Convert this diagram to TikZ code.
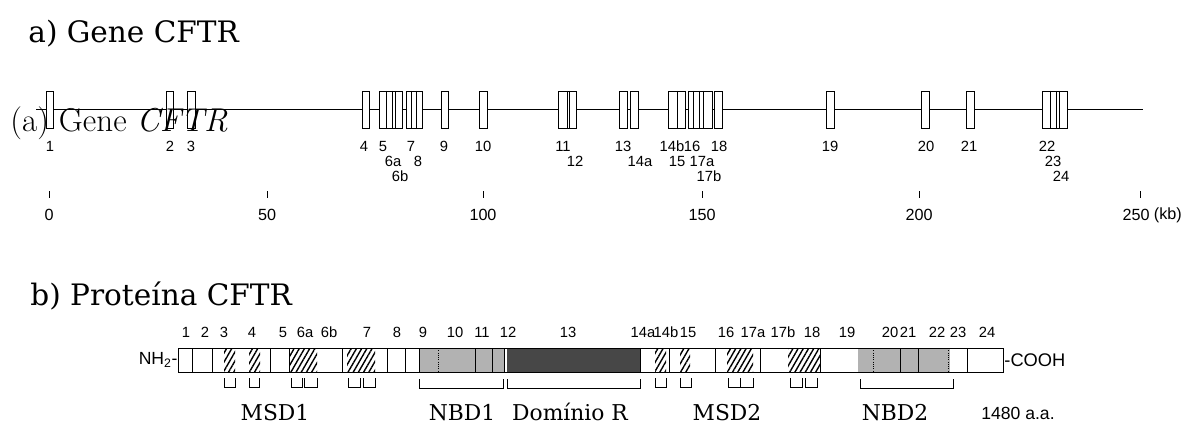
\documentclass[tikz,border=0pt]{standalone}
\usepackage{fontspec}
\newfontfamily\titlefont{DejaVu Serif}
\setsansfont{Liberation Sans}
\usetikzlibrary{patterns,patterns.meta,positioning}

\begin{document}
\begin{tikzpicture}[x=0.025cm, y=-0.025cm, line width=0.6pt,
  exon/.style={draw, fill=white},
  lbl/.style={font=\sffamily\fontsize{10.5}{11}\selectfont, inner sep=0pt},
  scl/.style={font=\sffamily\fontsize{11.5}{12}\selectfont, inner sep=0pt},
  ttl/.style={font=\titlefont\fontsize{21}{24}\selectfont, anchor=base west, inner sep=0pt},
  dom/.style={font=\titlefont\fontsize{15.5}{17}\selectfont, anchor=base, inner sep=0pt},
  tm/.style={pattern={Lines[angle=60, distance=3.2pt, line width=1pt]}},
  nbd/.style={fill=black!30},
  rdom/.style={fill=black!72}]
  \useasboundingbox (0,0) rectangle (1188,426);

  % Titles
  \node (titleA) [ttl] at (28,43) {a) Gene CFTR};
  \node (titleB) [ttl] at (30,305) {b) Proteína CFTR};

  % Gene
  \coordinate (gstart) at (36,109);
  \coordinate (gend) at (1143,109);
  \draw (gstart) -- (gend);
  \foreach \a/\b in {46/53,166/173,187/195,362/369,379/402,406/422,441/448,479/487,
    558/576,619/627,630/638,668/685,688/712,714/722,826/834,921/929,966/974,1042/1067}
    \draw[exon] (\a,91) rectangle (\b,128);
  \foreach \d in {386,392,395,411,416,567,569,677,693,699,703,1050,1056,1059}
    \draw (\d,91) -- (\d,128);
  \node (overlay) [anchor=base west, inner sep=0pt, font=\fontsize{23.5}{25}\selectfont] at (10,132) {(a) Gene \textit{CFTR}};

  % Exon labels
  \foreach \x/\t in {50/1,170/2,191/3,364/4,383/5,411/7,444/9,483/10,563/11,623/13,
    672/14b,692/16,719/18,830/19,926/20,969/21,1047/22}
    \node (ge\t) [lbl] at (\x,146) {\t};
  \foreach \x/\t in {393/6a,418/8,575/12,640/14a,677/15,702/17a,1053/23}
    \node (ge\t) [lbl] at (\x,161) {\t};
  \foreach \x/\t in {400/6b,709/17b,1061/24}
    \node (ge\t) [lbl] at (\x,176) {\t};

  % Scale
  \foreach \x in {49,267,483,702,919,1140}
    \draw (\x,191) -- (\x,198);
  \foreach \x/\t in {49/0,267/50,483/100,702/150,919/200,1136/250}
    \node (kb\t) [scl] at (\x,215) {\t};
  \node (kbunit) [scl, right=2.5pt of kb250] {(kb)};

  % Protein
  \draw[nbd] (419,348) rectangle (504,372);
  \draw[nbd, draw=none] (858,348) rectangle (950,372);
  \fill[rdom] (507,348) rectangle (640,372);
  \foreach \a/\b in {224/235,249/260,290/317,347/375,655/666,680/690,727/753,788/820}
    \fill[tm] (\a,348) rectangle (\b,372);
  \draw (178,348) rectangle (1003,372);
  \foreach \d in {192,212,270,289,342,387,405,475,492,640,669,715,760,820,900,918,967}
    \draw (\d,348) -- (\d,372);
  \foreach \d in {438,873,948}
    \draw[densely dotted] (\d,348) -- (\d,372);
  \node (nh2) [anchor=east, inner sep=0pt, font=\sffamily\fontsize{12.5}{13}\selectfont] at (178,360) {NH\textsubscript{2}-};
  \node (cooh) [anchor=west, inner sep=0pt, font=\sffamily\fontsize{13}{13}\selectfont] at (1004,360) {-COOH};

  % Protein labels
  \foreach \x/\t in {186/1,205/2,224/3,252/4,283/5,305/6a,329/6b,367/7,397/8,423/9,
    455/10,482/11,508/12,568/13,643/14a,666/14b,688/15,726/16,753/17a,783/17b,
    812/18,847/19,890/20,908/21,937/22,958/23,987/24}
    \node (pe\t) [lbl] at (\x,332) {\t};

  % Brackets
  \foreach \a/\b in {224/235,249/259,291/302,304/317,348/360,363/375,655/666,680/691,
    728/740,740/753,790/802,805/817}
    \draw (\a,378) -- (\a,387) -- (\b,387) -- (\b,378);
  \foreach \a/\b in {419/503,507/640,860/953}
    \draw (\a,379) -- (\a,388) -- (\b,388) -- (\b,379);

  % Domains
  \node (msd1) [dom] at (275,420) {MSD1};
  \node (nbd1) [dom] at (462,420) {NBD1};
  \node (rdomain) [dom] at (570,420) {Domínio R};
  \node (msd2) [dom] at (727,420) {MSD2};
  \node (nbd2) [dom] at (895,420) {NBD2};
  \node (aa) [anchor=base, inner sep=0pt, font=\sffamily\fontsize{12.5}{13}\selectfont] at (1018,419) {1480 a.a.};
\end{tikzpicture}
\end{document}
